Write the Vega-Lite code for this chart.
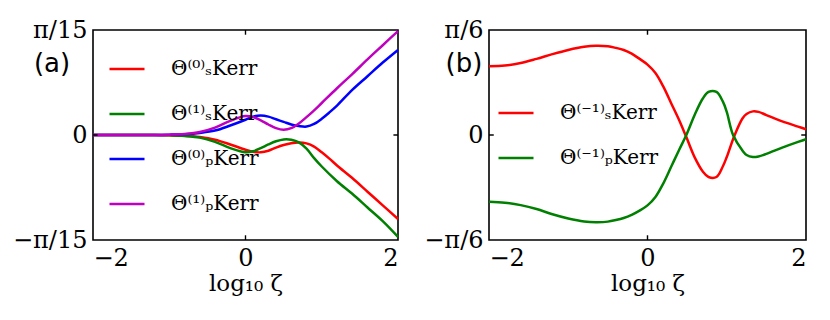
{
  "$schema": "https://vega.github.io/schema/vega-lite/v6.json",
  "padding": {"left": 12, "top": 18, "right": 5, "bottom": 5},
  "config": {
    "view": {"stroke": null},
    "font": "DejaVu Serif",
    "axis": {"domain": false, "ticks": false, "grid": false,
             "labelFont": "DejaVu Serif", "labelFontSize": 24, "labelColor": "#000", "labelPadding": 6,
             "titleFont": "DejaVu Serif", "titleFontSize": 23, "titleFontWeight": "normal", "titleColor": "#000"},
    "legend": {"symbolType": "stroke", "symbolStrokeWidth": 2.5, "symbolSize": 1225, "labelFont": "DejaVu Serif",
               "labelFontSize": 20, "labelColor": "#000", "labelOffset": 25, "rowPadding": 16, "padding": 0,
               "orient": "none", "title": null}
  },
  "datasets": {
    "a": [
      {"x": -2, "v": 0, "s": "s0"}, {"x": -1.6, "v": 0, "s": "s0"}, {"x": -1.2, "v": 0, "s": "s0"}, {"x": -1.0, "v": -0.003, "s": "s0"},
      {"x": -0.8, "v": -0.008, "s": "s0"}, {"x": -0.6, "v": -0.02, "s": "s0"}, {"x": -0.4, "v": -0.045, "s": "s0"}, {"x": -0.2, "v": -0.09, "s": "s0"},
      {"x": 0, "v": -0.14, "s": "s0"}, {"x": 0.1, "v": -0.16, "s": "s0"}, {"x": 0.2, "v": -0.165, "s": "s0"}, {"x": 0.3, "v": -0.15, "s": "s0"},
      {"x": 0.4, "v": -0.12, "s": "s0"}, {"x": 0.5, "v": -0.095, "s": "s0"}, {"x": 0.6, "v": -0.078, "s": "s0"}, {"x": 0.7, "v": -0.072, "s": "s0"},
      {"x": 0.8, "v": -0.08, "s": "s0"}, {"x": 0.9, "v": -0.11, "s": "s0"}, {"x": 1.0, "v": -0.165, "s": "s0"}, {"x": 1.1, "v": -0.225, "s": "s0"},
      {"x": 1.2, "v": -0.29, "s": "s0"}, {"x": 1.4, "v": -0.41, "s": "s0"}, {"x": 1.6, "v": -0.54, "s": "s0"}, {"x": 1.8, "v": -0.67, "s": "s0"},
      {"x": 2.0, "v": -0.8, "s": "s0"},
      {"x": -2, "v": 0, "s": "s1"}, {"x": -1.6, "v": 0, "s": "s1"}, {"x": -1.2, "v": 0, "s": "s1"}, {"x": -1.0, "v": -0.003, "s": "s1"},
      {"x": -0.8, "v": -0.01, "s": "s1"}, {"x": -0.6, "v": -0.025, "s": "s1"}, {"x": -0.4, "v": -0.065, "s": "s1"}, {"x": -0.2, "v": -0.125, "s": "s1"},
      {"x": 0, "v": -0.165, "s": "s1"}, {"x": 0.1, "v": -0.155, "s": "s1"}, {"x": 0.2, "v": -0.125, "s": "s1"}, {"x": 0.3, "v": -0.09, "s": "s1"},
      {"x": 0.4, "v": -0.06, "s": "s1"}, {"x": 0.5, "v": -0.042, "s": "s1"}, {"x": 0.6, "v": -0.045, "s": "s1"}, {"x": 0.7, "v": -0.07, "s": "s1"},
      {"x": 0.8, "v": -0.13, "s": "s1"}, {"x": 0.9, "v": -0.22, "s": "s1"}, {"x": 1.0, "v": -0.3, "s": "s1"}, {"x": 1.2, "v": -0.44, "s": "s1"},
      {"x": 1.4, "v": -0.56, "s": "s1"}, {"x": 1.6, "v": -0.69, "s": "s1"}, {"x": 1.8, "v": -0.82, "s": "s1"}, {"x": 2.0, "v": -0.97, "s": "s1"},
      {"x": -2, "v": 0, "s": "p0"}, {"x": -1.6, "v": 0, "s": "p0"}, {"x": -1.2, "v": 0, "s": "p0"}, {"x": -1.0, "v": 0.003, "s": "p0"},
      {"x": -0.8, "v": 0.008, "s": "p0"}, {"x": -0.6, "v": 0.02, "s": "p0"}, {"x": -0.4, "v": 0.042, "s": "p0"}, {"x": -0.2, "v": 0.09, "s": "p0"},
      {"x": 0, "v": 0.145, "s": "p0"}, {"x": 0.1, "v": 0.175, "s": "p0"}, {"x": 0.2, "v": 0.185, "s": "p0"}, {"x": 0.3, "v": 0.175, "s": "p0"},
      {"x": 0.4, "v": 0.15, "s": "p0"}, {"x": 0.5, "v": 0.125, "s": "p0"}, {"x": 0.6, "v": 0.1, "s": "p0"}, {"x": 0.7, "v": 0.085, "s": "p0"},
      {"x": 0.8, "v": 0.08, "s": "p0"}, {"x": 0.9, "v": 0.105, "s": "p0"}, {"x": 1.0, "v": 0.155, "s": "p0"}, {"x": 1.1, "v": 0.215, "s": "p0"},
      {"x": 1.2, "v": 0.28, "s": "p0"}, {"x": 1.4, "v": 0.43, "s": "p0"}, {"x": 1.6, "v": 0.56, "s": "p0"}, {"x": 1.8, "v": 0.69, "s": "p0"},
      {"x": 2.0, "v": 0.81, "s": "p0"},
      {"x": -2, "v": 0, "s": "p1"}, {"x": -1.6, "v": 0, "s": "p1"}, {"x": -1.2, "v": 0, "s": "p1"}, {"x": -1.0, "v": 0.003, "s": "p1"},
      {"x": -0.8, "v": 0.01, "s": "p1"}, {"x": -0.6, "v": 0.028, "s": "p1"}, {"x": -0.4, "v": 0.07, "s": "p1"}, {"x": -0.2, "v": 0.135, "s": "p1"},
      {"x": 0, "v": 0.18, "s": "p1"}, {"x": 0.1, "v": 0.17, "s": "p1"}, {"x": 0.2, "v": 0.14, "s": "p1"}, {"x": 0.3, "v": 0.1, "s": "p1"},
      {"x": 0.4, "v": 0.065, "s": "p1"}, {"x": 0.5, "v": 0.05, "s": "p1"}, {"x": 0.6, "v": 0.065, "s": "p1"}, {"x": 0.7, "v": 0.11, "s": "p1"},
      {"x": 0.8, "v": 0.17, "s": "p1"}, {"x": 0.9, "v": 0.235, "s": "p1"}, {"x": 1.0, "v": 0.305, "s": "p1"}, {"x": 1.2, "v": 0.445, "s": "p1"},
      {"x": 1.4, "v": 0.58, "s": "p1"}, {"x": 1.6, "v": 0.72, "s": "p1"}, {"x": 1.8, "v": 0.855, "s": "p1"}, {"x": 2.0, "v": 0.99, "s": "p1"}
    ],
    "b": [
      {"x": -2, "v": 0.655, "s": "s"}, {"x": -1.8, "v": 0.662, "s": "s"}, {"x": -1.6, "v": 0.685, "s": "s"}, {"x": -1.4, "v": 0.725, "s": "s"},
      {"x": -1.2, "v": 0.77, "s": "s"}, {"x": -1.0, "v": 0.81, "s": "s"}, {"x": -0.8, "v": 0.84, "s": "s"}, {"x": -0.65, "v": 0.85, "s": "s"},
      {"x": -0.5, "v": 0.845, "s": "s"}, {"x": -0.4, "v": 0.83, "s": "s"}, {"x": -0.3, "v": 0.81, "s": "s"}, {"x": -0.2, "v": 0.775, "s": "s"},
      {"x": -0.1, "v": 0.725, "s": "s"}, {"x": 0, "v": 0.67, "s": "s"}, {"x": 0.1, "v": 0.59, "s": "s"}, {"x": 0.2, "v": 0.46, "s": "s"},
      {"x": 0.3, "v": 0.3, "s": "s"}, {"x": 0.4, "v": 0.14, "s": "s"}, {"x": 0.49, "v": -0.02, "s": "s"}, {"x": 0.6, "v": -0.22, "s": "s"},
      {"x": 0.7, "v": -0.35, "s": "s"}, {"x": 0.77, "v": -0.4, "s": "s"}, {"x": 0.87, "v": -0.4, "s": "s"}, {"x": 0.95, "v": -0.3, "s": "s"},
      {"x": 1.0, "v": -0.21, "s": "s"}, {"x": 1.1, "v": 0.0, "s": "s"}, {"x": 1.2, "v": 0.16, "s": "s"}, {"x": 1.25, "v": 0.2, "s": "s"},
      {"x": 1.33, "v": 0.225, "s": "s"}, {"x": 1.4, "v": 0.22, "s": "s"}, {"x": 1.5, "v": 0.19, "s": "s"}, {"x": 1.7, "v": 0.13, "s": "s"},
      {"x": 1.9, "v": 0.08, "s": "s"}, {"x": 2.0, "v": 0.055, "s": "s"},
      {"x": -2, "v": -0.635, "s": "p"}, {"x": -1.8, "v": -0.645, "s": "p"}, {"x": -1.6, "v": -0.668, "s": "p"}, {"x": -1.4, "v": -0.705, "s": "p"},
      {"x": -1.2, "v": -0.755, "s": "p"}, {"x": -1.0, "v": -0.795, "s": "p"}, {"x": -0.8, "v": -0.823, "s": "p"}, {"x": -0.65, "v": -0.83, "s": "p"},
      {"x": -0.5, "v": -0.825, "s": "p"}, {"x": -0.4, "v": -0.81, "s": "p"}, {"x": -0.3, "v": -0.79, "s": "p"}, {"x": -0.2, "v": -0.76, "s": "p"},
      {"x": -0.1, "v": -0.72, "s": "p"}, {"x": 0, "v": -0.67, "s": "p"}, {"x": 0.1, "v": -0.59, "s": "p"}, {"x": 0.2, "v": -0.46, "s": "p"},
      {"x": 0.3, "v": -0.3, "s": "p"}, {"x": 0.4, "v": -0.14, "s": "p"}, {"x": 0.49, "v": 0.0, "s": "p"}, {"x": 0.6, "v": 0.2, "s": "p"},
      {"x": 0.7, "v": 0.35, "s": "p"}, {"x": 0.77, "v": 0.41, "s": "p"}, {"x": 0.87, "v": 0.41, "s": "p"}, {"x": 0.95, "v": 0.32, "s": "p"},
      {"x": 1.0, "v": 0.22, "s": "p"}, {"x": 1.08, "v": 0.0, "s": "p"}, {"x": 1.2, "v": -0.15, "s": "p"}, {"x": 1.25, "v": -0.19, "s": "p"},
      {"x": 1.33, "v": -0.21, "s": "p"}, {"x": 1.4, "v": -0.205, "s": "p"}, {"x": 1.5, "v": -0.18, "s": "p"}, {"x": 1.7, "v": -0.12, "s": "p"},
      {"x": 1.9, "v": -0.065, "s": "p"}, {"x": 2.0, "v": -0.04, "s": "p"}
    ]
  },
  "resolve": {"scale": {"color": "independent"}},
  "spacing": 20,
  "hconcat": [
    {
      "width": 305, "height": 210,
      "layer": [
        {
          "data": {"values": [{"label": "(a)"}]},
          "mark": {"type": "rect", "filled": false, "fill": null, "stroke": "#000000", "strokeWidth": 1.6, "strokeOpacity": 1},
          "encoding": {
            "x": {"datum": -2, "type": "quantitative", "scale": {"domain": [-2, 2], "nice": false, "zero": false},
                  "axis": {"orient": "bottom", "values": [-2, 0, 2], "format": "d", "title": "log₁₀ ζ", "titlePadding": 2}},
            "x2": {"datum": 2},
            "y": {"datum": -1, "type": "quantitative", "scale": {"domain": [-1, 1], "nice": false, "zero": false},
                  "axis": {"orient": "left", "values": [-1, 0, 1], "title": null,
                           "labelExpr": "datum.value > 0 ? 'π/15' : (datum.value < 0 ? '−π/15' : '0')"}},
            "y2": {"datum": 1}
          }
        },
        {
          "data": {"name": "a"},
          "mark": {"type": "line", "strokeWidth": 2.5, "interpolate": "catmull-rom"},
          "encoding": {
            "x": {"field": "x", "type": "quantitative", "scale": {"domain": [-2, 2], "nice": false, "zero": false},
                  "axis": {"orient": "bottom", "values": [-2, 0, 2], "format": "d", "title": "log₁₀ ζ", "titlePadding": 2}},
            "y": {"field": "v", "type": "quantitative", "scale": {"domain": [-1, 1], "nice": false, "zero": false},
                  "axis": {"orient": "left", "values": [-1, 0, 1], "title": null,
                           "labelExpr": "datum.value > 0 ? 'π/15' : (datum.value < 0 ? '−π/15' : '0')"}},
            "color": {"field": "s", "type": "nominal",
                      "scale": {"domain": ["s0", "s1", "p0", "p1"], "range": ["#ff0000", "#008000", "#0000ff", "#bf00bf"]},
                      "legend": {"legendX": 15, "legendY": 20,
                                 "labelExpr": "datum.label == 's0' ? 'Θ⁽⁰⁾ₛKerr' : (datum.label == 's1' ? 'Θ⁽¹⁾ₛKerr' : (datum.label == 'p0' ? 'Θ⁽⁰⁾ₚKerr' : 'Θ⁽¹⁾ₚKerr'))"}}
          }
        },
        {
          "data": {"values": [{"label": "(a)"}]},
          "mark": {"type": "rect", "color": "#000000"},
          "encoding": {"x": {"datum": -0.009, "type": "quantitative"}, "x2": {"datum": 0.009}, "y": {"datum": -1, "type": "quantitative"}, "y2": {"datum": -0.955}}
        },
        {
          "data": {"values": [{"label": "(a)"}]},
          "mark": {"type": "rect", "color": "#000000"},
          "encoding": {"x": {"datum": -0.009, "type": "quantitative"}, "x2": {"datum": 0.009}, "y": {"datum": 1, "type": "quantitative"}, "y2": {"datum": 0.955}}
        },
        {
          "data": {"values": [{"label": "(a)"}]},
          "mark": {"type": "rect", "color": "#000000"},
          "encoding": {"x": {"datum": -2, "type": "quantitative"}, "x2": {"datum": -1.94}, "y": {"datum": -0.007, "type": "quantitative"}, "y2": {"datum": 0.007}}
        },
        {
          "data": {"values": [{"label": "(a)"}]},
          "mark": {"type": "rect", "color": "#000000"},
          "encoding": {"x": {"datum": 2, "type": "quantitative"}, "x2": {"datum": 1.94}, "y": {"datum": -0.007, "type": "quantitative"}, "y2": {"datum": 0.007}}
        },
        {
          "data": {"values": [{"label": "(a)"}]},
          "mark": {"type": "text", "font": "DejaVu Sans", "fontSize": 26, "align": "center", "baseline": "middle", "dx": -41},
          "encoding": {
            "x": {"datum": -2, "type": "quantitative"},
            "y": {"datum": 0.676, "type": "quantitative"},
            "text": {"field": "label"}
          }
        }
      ]
    },
    {
      "width": 317, "height": 210,
      "layer": [
        {
          "data": {"values": [{"label": "(b)"}]},
          "mark": {"type": "rect", "filled": false, "fill": null, "stroke": "#000000", "strokeWidth": 1.6, "strokeOpacity": 1},
          "encoding": {
            "x": {"datum": -2, "type": "quantitative", "scale": {"domain": [-2, 2], "nice": false, "zero": false},
                  "axis": {"orient": "bottom", "values": [-2, 0, 2], "format": "d", "title": "log₁₀ ζ", "titlePadding": 2}},
            "x2": {"datum": 2},
            "y": {"datum": -1, "type": "quantitative", "scale": {"domain": [-1, 1], "nice": false, "zero": false},
                  "axis": {"orient": "left", "values": [-1, 0, 1], "title": null,
                           "labelExpr": "datum.value > 0 ? 'π/6' : (datum.value < 0 ? '−π/6' : '0')"}},
            "y2": {"datum": 1}
          }
        },
        {
          "data": {"name": "b"},
          "mark": {"type": "line", "strokeWidth": 2.5, "interpolate": "catmull-rom"},
          "encoding": {
            "x": {"field": "x", "type": "quantitative", "scale": {"domain": [-2, 2], "nice": false, "zero": false},
                  "axis": {"orient": "bottom", "values": [-2, 0, 2], "format": "d", "title": "log₁₀ ζ", "titlePadding": 2}},
            "y": {"field": "v", "type": "quantitative", "scale": {"domain": [-1, 1], "nice": false, "zero": false},
                  "axis": {"orient": "left", "values": [-1, 0, 1], "title": null,
                           "labelExpr": "datum.value > 0 ? 'π/6' : (datum.value < 0 ? '−π/6' : '0')"}},
            "color": {"field": "s", "type": "nominal",
                      "scale": {"domain": ["s", "p"], "range": ["#ff0000", "#008000"]},
                      "legend": {"legendX": 8, "legendY": 64,
                                 "labelExpr": "datum.label == 's' ? 'Θ⁽⁻¹⁾ₛKerr' : 'Θ⁽⁻¹⁾ₚKerr'"}}
          }
        },
        {
          "data": {"values": [{"label": "(b)"}]},
          "mark": {"type": "rect", "color": "#000000"},
          "encoding": {"x": {"datum": -0.009, "type": "quantitative"}, "x2": {"datum": 0.009}, "y": {"datum": -1, "type": "quantitative"}, "y2": {"datum": -0.955}}
        },
        {
          "data": {"values": [{"label": "(b)"}]},
          "mark": {"type": "rect", "color": "#000000"},
          "encoding": {"x": {"datum": -0.009, "type": "quantitative"}, "x2": {"datum": 0.009}, "y": {"datum": 1, "type": "quantitative"}, "y2": {"datum": 0.955}}
        },
        {
          "data": {"values": [{"label": "(b)"}]},
          "mark": {"type": "rect", "color": "#000000"},
          "encoding": {"x": {"datum": -2, "type": "quantitative"}, "x2": {"datum": -1.94}, "y": {"datum": -0.007, "type": "quantitative"}, "y2": {"datum": 0.007}}
        },
        {
          "data": {"values": [{"label": "(b)"}]},
          "mark": {"type": "rect", "color": "#000000"},
          "encoding": {"x": {"datum": 2, "type": "quantitative"}, "x2": {"datum": 1.94}, "y": {"datum": -0.007, "type": "quantitative"}, "y2": {"datum": 0.007}}
        },
        {
          "data": {"values": [{"label": "(b)"}]},
          "mark": {"type": "text", "font": "DejaVu Sans", "fontSize": 26, "align": "center", "baseline": "middle", "dx": -25},
          "encoding": {
            "x": {"datum": -2, "type": "quantitative"},
            "y": {"datum": 0.676, "type": "quantitative"},
            "text": {"field": "label"}
          }
        }
      ]
    }
  ]
}
